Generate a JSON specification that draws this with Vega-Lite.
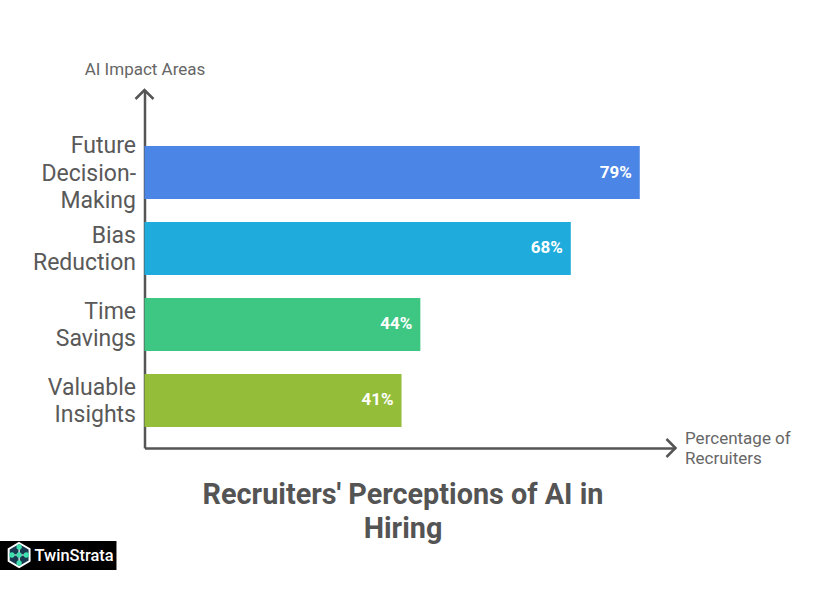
{
  "$schema": "https://vega.github.io/schema/vega-lite/v6.json",
  "description": "Recruiters' perceptions of AI in hiring",
  "width": 531,
  "height": 358,
  "autosize": "none",
  "padding": {"left": 144.5, "top": 90, "right": 159.5, "bottom": 152},
  "background": "white",
  "title": {
    "text": ["Recruiters' Perceptions of AI in", "Hiring"],
    "orient": "bottom",
    "anchor": "middle",
    "font": "Roboto",
    "fontSize": 28.8,
    "fontWeight": "bold",
    "color": "#545454",
    "lineHeight": 34,
    "dx": -7,
    "offset": -90
  },
  "config": {"view": {"stroke": null}},
  "resolve": {"scale": {"y": "independent"}},
  "layer": [
    {
      "data": {
        "values": [
          {"area": "Future Decision-Making", "label": "Future|Decision-|Making", "share": 0.79},
          {"area": "Bias Reduction", "label": "Bias|Reduction", "share": 0.68},
          {"area": "Time Savings", "label": "Time|Savings", "share": 0.44},
          {"area": "Valuable Insights", "label": "Valuable|Insights", "share": 0.41}
        ]
      },
      "encoding": {
        "y": {
          "field": "label",
          "type": "nominal",
          "sort": null,
          "scale": {"paddingInner": 0.303, "paddingOuter": 0.507, "align": 0.727},
          "axis": {
            "title": "AI Impact Areas",
            "titleFont": "Roboto",
            "titleFontSize": 17,
            "titleFontWeight": "normal",
            "titleColor": "#666666",
            "titleAngle": 0,
            "titleAlign": "center",
            "titleBaseline": "middle",
            "titleX": 0,
            "titleY": -21,
            "labelExpr": "split(datum.value, '|')",
            "labelFont": "Roboto",
            "labelFontSize": 23,
            "labelColor": "#595959",
            "labelLineHeight": 27.5,
            "labelPadding": 9,
            "labelLimit": 130,
            "labelOffset": {"condition": {"test": "indexof(datum.value, 'Decision') >= 0", "value": -26.5}, "value": -12.75},
            "ticks": false,
            "grid": false,
            "domainColor": "#555555",
            "domainWidth": 2.5
          }
        },
        "x": {
          "field": "share",
          "type": "quantitative",
          "scale": {"domain": [0, 0.847], "nice": false},
          "axis": {
            "title": ["Percentage of", "Recruiters"],
            "titleFont": "Roboto",
            "titleFontSize": 17,
            "titleFontWeight": "normal",
            "titleColor": "#666666",
            "titleLineHeight": 20,
            "titleAlign": "left",
            "titleBaseline": "middle",
            "titleX": 540,
            "titleY": -10,
            "labels": false,
            "ticks": false,
            "grid": false,
            "domainColor": "#555555",
            "domainWidth": 2.5
          }
        }
      },
      "layer": [
        {
          "mark": {"type": "bar"},
          "encoding": {
            "color": {
              "field": "area",
              "type": "nominal",
              "scale": {
                "domain": ["Future Decision-Making", "Bias Reduction", "Time Savings", "Valuable Insights"],
                "range": ["#4B86E6", "#1FACDC", "#3EC783", "#94BD3A"]
              },
              "legend": null
            }
          }
        },
        {
          "mark": {"type": "text", "align": "right", "dx": -8, "font": "Roboto", "fontSize": 17, "fontWeight": "bold", "color": "#ffffff"},
          "encoding": {"text": {"field": "share", "type": "quantitative", "format": ".0%"}}
        }
      ]
    },
    {
      "data": {"values": [{"part": "annotation"}]},
      "encoding": {
        "y": {"type": "quantitative", "scale": {"domain": [0, 358], "nice": false}, "axis": null}
      },
      "layer": [
        {
          "mark": {"type": "point", "shape": "M-1,1L0,0L1,1", "size": 324, "filled": false, "stroke": "#555555", "strokeWidth": 2.5, "opacity": 1},
          "encoding": {"x": {"datum": 0}, "y": {"datum": 358}}
        },
        {
          "mark": {"type": "point", "shape": "M-1,-1L0,0L-1,1", "size": 324, "filled": false, "stroke": "#555555", "strokeWidth": 2.5, "opacity": 1},
          "encoding": {"x": {"datum": 0.847}, "y": {"datum": 0}}
        },
        {
          "mark": {"type": "rect", "color": "#000000"},
          "encoding": {"x": {"datum": -0.2313}, "x2": {"datum": -0.0447}, "y": {"datum": -93}, "y2": {"datum": -122}}
        },
        {
          "mark": {"type": "point", "shape": "M0,-1L0.87,-0.5L0.87,0.5L0,1L-0.87,0.5L-0.87,-0.5Z", "size": 576, "filled": true, "fill": "#17394F", "stroke": "#ffffff", "strokeWidth": 2, "opacity": 1},
          "encoding": {"x": {"datum": -0.2}, "y": {"datum": -107}}
        },
        {
          "mark": {"type": "point", "shape": "M0,-1L0,1M-1,0L1,0", "size": 256, "filled": false, "stroke": "#ffffff", "strokeWidth": 1.2, "opacity": 1},
          "encoding": {"x": {"datum": -0.2}, "y": {"datum": -107}}
        },
        {
          "data": {
            "values": [
              {"nx": -0.2, "ny": -99},
              {"nx": -0.2, "ny": -107},
              {"nx": -0.2, "ny": -115},
              {"nx": -0.2115, "ny": -107},
              {"nx": -0.1885, "ny": -107}
            ]
          },
          "mark": {"type": "point", "shape": "circle", "size": 28, "filled": true, "fill": "#3FE0B0", "opacity": 1},
          "encoding": {
            "x": {"field": "nx", "type": "quantitative"},
            "y": {"field": "ny", "type": "quantitative"}
          }
        },
        {
          "mark": {"type": "text", "text": "TwinStrata", "align": "left", "baseline": "middle", "font": "Roboto", "fontSize": 16.4, "fontWeight": 500, "color": "#ffffff"},
          "encoding": {"x": {"datum": -0.1755}, "y": {"datum": -107.5}}
        }
      ]
    }
  ]
}
